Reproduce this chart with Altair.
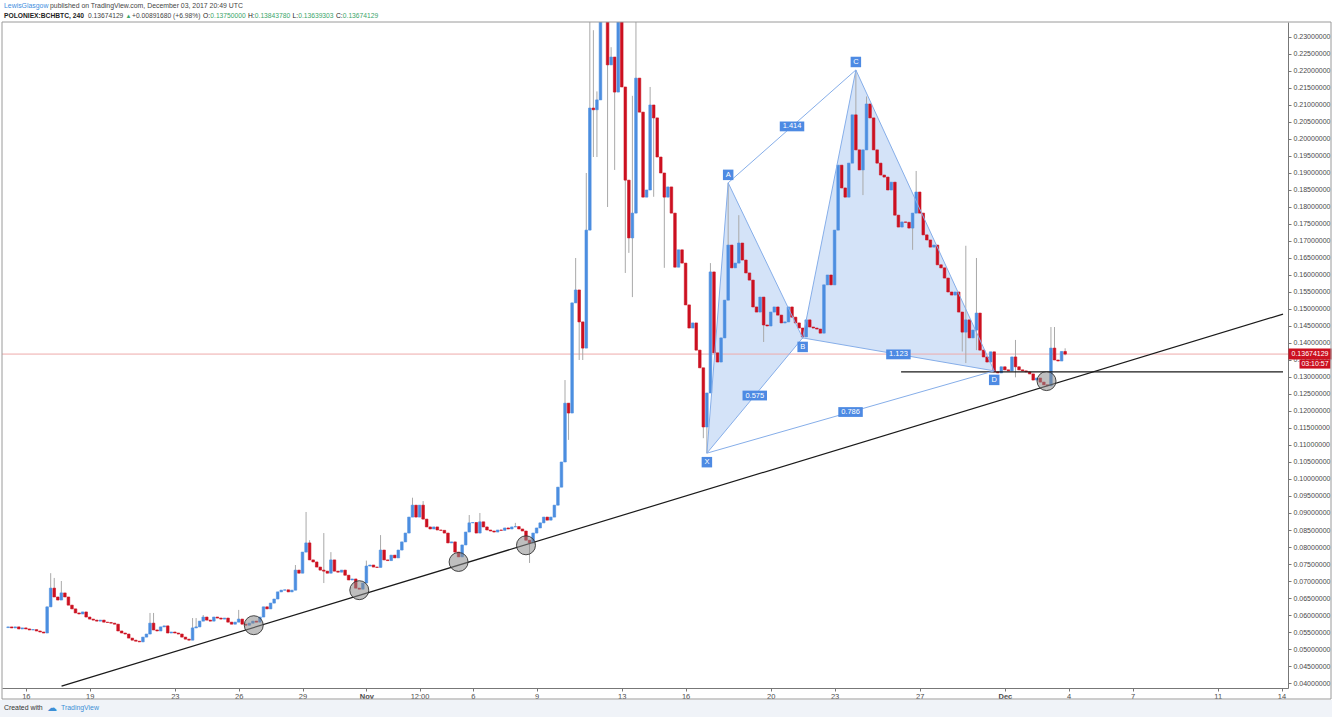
import altair as alt
import pandas as pd

# ---------------- data (prices in mBTC, 4h candles from 2017-10-15 04:00 UTC) ----------------
START = "2017-10-15T04:00:00Z"
FIRST_OPEN = 56.3
closes_mbtc = [
    56.5, 56.2, 56.5, 55.9, 56.2, 55.9, 55.6, 55.7, 55.3, 55.0,
    54.7, 62.4, 67.9, 65.3, 64.4, 66.5, 65.3, 62.9, 61.8, 60.6,
    60.3, 60.9, 59.4, 58.8, 58.5, 58.2, 58.5, 57.9, 57.8, 57.6,
    57.3, 55.3, 54.7, 54.4, 53.2, 52.6, 52.3, 52.1, 53.5, 54.4,
    57.6, 55.6, 55.3, 56.5, 56.8, 54.7, 55.0, 54.7, 54.4, 53.5,
    52.9, 52.6, 56.2, 56.5, 58.2, 59.4, 58.5, 58.2, 59.4, 59.1,
    58.8, 59.1, 57.9, 57.3, 57.9, 58.8, 57.3, 57.0, 57.6, 58.2,
    57.9, 59.4, 62.4, 61.8, 63.5, 64.7, 66.8, 67.3, 67.4, 66.8,
    67.3, 73.2, 72.3, 78.5, 81.2, 76.2, 75.6, 74.1, 73.2, 72.9,
    72.3, 76.2, 72.9, 72.6, 73.2, 71.7, 70.3, 70.6, 67.9, 67.6,
    69.4, 74.4, 74.7, 74.1, 74.0, 79.1, 76.2, 76.0, 77.6, 76.8,
    79.1, 81.5, 84.1, 88.8, 92.3, 88.8, 92.3, 88.2, 85.9, 85.3,
    85.9, 85.0, 84.9, 84.1, 81.2, 81.5, 78.5, 77.1, 80.6, 84.4,
    87.1, 87.2, 84.1, 87.4, 85.9, 85.0, 84.7, 84.4, 85.0, 84.9,
    85.6, 85.3, 85.9, 86.0, 85.3, 84.7, 82.0, 81.2, 84.1, 85.6,
    87.1, 88.8, 87.9, 88.8, 92.3, 97.6, 105.0, 122.3, 119.4, 151.8,
    155.6, 146.2, 138.5, 173.2, 209.1, 208.6, 211.5, 245.0, 240.0, 221.8,
    224.1, 213.8, 238.0, 215.3, 187.9, 170.9, 178.2, 217.9, 207.9, 182.9,
    185.0, 210.0, 206.2, 194.7, 190.0, 182.9, 185.9, 178.2, 162.3, 167.4,
    163.5, 151.2, 144.4, 145.9, 137.9, 132.7, 115.3, 125.3, 160.9, 137.1,
    134.4, 141.5, 152.6, 168.8, 162.1, 163.5, 169.4, 164.4, 160.6, 158.5,
    150.6, 149.1, 153.5, 145.3, 145.0, 149.1, 150.6, 148.2, 145.9, 146.2,
    150.6, 147.6, 145.9, 144.4, 141.8, 146.8, 144.7, 144.4, 144.1, 142.9,
    157.1, 160.0, 157.1, 173.2, 192.3, 185.6, 182.9, 192.9, 207.1, 196.8,
    190.9, 196.8, 210.3, 206.2, 196.8, 192.9, 189.4, 188.8, 185.0, 187.3,
    177.6, 174.1, 175.6, 175.5, 173.8, 178.2, 184.4, 178.2, 171.8, 170.3,
    168.2, 168.8, 163.0, 162.1, 159.1, 155.0, 154.1, 155.0, 149.1, 143.2,
    146.8, 141.5, 143.8, 148.8, 137.9, 135.9, 134.4, 137.4, 131.5, 131.2,
    133.0, 132.1, 131.8, 135.9, 133.0, 132.1, 131.8, 131.5, 130.9, 129.1,
    129.7, 128.5, 127.7, 127.4, 138.5, 135.0, 134.7, 137.5, 136.74,
]
wick_high = {12: 72.3, 13: 70.9, 15: 70.0, 40: 60.6, 41: 60.6, 52: 59.1, 53: 59.1, 55: 60.0,
             65: 61.5, 81: 74.7, 84: 90.3, 85: 82.0, 89: 84.1, 91: 78.5, 101: 76.0, 105: 83.5,
             114: 94.5, 117: 93.5, 130: 89.4, 133: 90.0, 143: 87.1, 157: 129.1, 160: 165.0,
             163: 190.0, 164: 240.0, 165: 232.0, 166: 214.0, 167: 262.0, 168: 268.0, 169: 250.0,
             170: 227.0, 172: 250.0, 173: 250.0, 176: 212.7, 177: 236.0, 181: 215.3, 198: 163.5,
             203: 187.1, 206: 177.6, 239: 220.3, 242: 212.5, 256: 190.6, 270: 168.6, 273: 165.0,
             284: 140.9, 294: 144.7, 295: 144.7, 298: 138.44}
wick_low = {89: 69.4, 147: 75.3, 158: 111.5, 161: 135.0, 162: 135.0, 165: 194.7, 166: 194.7,
            169: 180.0, 171: 190.9, 174: 160.6, 175: 166.5, 176: 153.5, 182: 183.0, 185: 162.1,
            196: 112.0, 197: 107.6, 213: 140.3, 224: 141.2, 241: 183.5, 255: 167.4, 269: 137.5,
            270: 134.1, 273: 137.9, 284: 129.9, 298: 136.39}

# harmonic pattern points
pat_names = ["X", "A", "B", "C", "D"]
pat_times = ["2017-11-17T00:00:00Z", "2017-11-18T00:00:00Z", "2017-11-21T12:00:00Z",
             "2017-11-24T00:00:00Z", "2017-11-30T12:00:00Z"]
pat_prices = [0.1076, 0.1871, 0.1415, 0.2203, 0.1318]
ratio_labels = ["0.575", "1.414", "0.786", "1.123"]
ratio_pairs = [("X", "B"), ("A", "C"), ("X", "D"), ("B", "D")]

# circles on the trend line
circle_times = ["2017-10-26T17:00:00Z", "2017-10-31T16:00:00Z", "2017-11-05T08:00:00Z",
                "2017-11-08T12:00:00Z", "2017-12-02T23:00:00Z"]
circle_prices = [0.0570, 0.0673, 0.0756, 0.0805, 0.1288]

# trend line & support line
trend_times = ["2017-10-17T16:16:00Z", "2017-12-14T01:41:00Z"]
trend_prices = [0.0391, 0.1485]
support_times = ["2017-11-26T03:00:00Z", "2017-12-14T01:41:00Z"]
support_price = 0.1315

last_price = 0.13674129
timer_text = "03:10:57"

x_tick_dates = ["2017-10-16", "2017-10-19", "2017-10-23", "2017-10-26", "2017-10-29",
                "2017-11-01", "2017-11-03T12:00", "2017-11-06", "2017-11-09", "2017-11-13",
                "2017-11-16", "2017-11-20", "2017-11-23", "2017-11-27", "2017-12-01",
                "2017-12-04", "2017-12-07", "2017-12-11", "2017-12-14"]
x_tick_labels = ["16", "19", "23", "26", "29", "Nov", "12:00", "6", "9", "13",
                 "16", "20", "23", "27", "Dec", "4", "7", "11", "14"]
y_ticks = [round(0.040 + 0.005 * k, 3) for k in range(39)]

x_domain = ["2017-10-15T02:44:00Z", "2017-12-14T01:41:00Z"]
y_domain = [0.03853, 0.23441]


def ms(ts):
    t = pd.Timestamp(ts)
    if t.tzinfo is None:
        t = t.tz_localize("UTC")
    return int(t.value // 1_000_000)


# ---------------- build tables ----------------
start_ms = ms(START)
rows = []
prev = FIRST_OPEN
for i, c in enumerate(closes_mbtc):
    o = prev
    hi = max(o, c, wick_high.get(i, max(o, c)))
    lo = min(o, c, wick_low.get(i, min(o, c)))
    rows.append(dict(t=start_ms + i * 4 * 3600 * 1000, open=o / 1000, close=c / 1000,
                     high=hi / 1000, low=lo / 1000, dir="up" if c >= o else "down"))
    prev = c
candles = pd.DataFrame(rows)

P = {n: (ms(t), p) for n, t, p in zip(pat_names, pat_times, pat_prices)}


def interp(t, a, b):
    (ta, pa), (tb, pb) = P[a], P[b]
    return pa + (pb - pa) * (t - ta) / (tb - ta)


area_rows = []
for tri, (a, apex, b) in enumerate([("X", "A", "B"), ("B", "C", "D")]):
    area_rows.append(dict(tri=tri, t=P[a][0], up=P[a][1], lo=P[a][1]))
    area_rows.append(dict(tri=tri, t=P[apex][0], up=P[apex][1], lo=interp(P[apex][0], a, b)))
    area_rows.append(dict(tri=tri, t=P[b][0], up=P[b][1], lo=P[b][1]))
areas = pd.DataFrame(area_rows)

seg_pairs = [("X", "A"), ("A", "B"), ("X", "B"), ("B", "C"), ("C", "D"), ("B", "D"),
             ("A", "C"), ("X", "D")]
segs = pd.DataFrame([dict(t1=P[a][0], p1=P[a][1], t2=P[b][0], p2=P[b][1]) for a, b in seg_pairs])

pts = pd.DataFrame(dict(name=pat_names, t=[P[n][0] for n in pat_names],
                        p=[P[n][1] for n in pat_names]))
pts_above = pts[pts["name"].isin(["A", "C"])]
pts_below = pts[~pts["name"].isin(["A", "C"])]
ratios = pd.DataFrame([dict(label=l, t=(P[a][0] + P[b][0]) / 2, p=(P[a][1] + P[b][1]) / 2)
                       for l, (a, b) in zip(ratio_labels, ratio_pairs)])
circles = pd.DataFrame(dict(t=[ms(t) for t in circle_times], p=circle_prices))
lines = pd.DataFrame([
    dict(t1=ms(trend_times[0]), p1=trend_prices[0], t2=ms(trend_times[1]), p2=trend_prices[1]),
    dict(t1=ms(support_times[0]), p1=support_price, t2=ms(support_times[1]), p2=support_price),
])
lastdf = pd.DataFrame(dict(p=[last_price], label=[f"{last_price:.8f}"], timer=[timer_text]))
one = pd.DataFrame({"k": [0]})

# ---------------- scales / axes ----------------
FONT = "Liberation Sans"
BLUE = "#4c8ee0"
RED = "#cc1020"
xs = alt.Scale(type="utc", domain=[ms(d) for d in x_domain])
ys = alt.Scale(domain=y_domain, zero=False, nice=False)

expr = "''"
for d, lab in reversed(list(zip(x_tick_dates, x_tick_labels))):
    expr = f"time(datum.value) == {ms(d)} ? '{lab}' : ({expr})"
bold_test = " || ".join(f"time(datum.value) == {ms(d)}"
                        for d, l in zip(x_tick_dates, x_tick_labels) if l in ("Nov", "Dec"))

x_axis = alt.Axis(values=[ms(d) for d in x_tick_dates], labelExpr=expr, title=None, grid=False,
                  labelFontSize=7.5, labelFont=FONT, labelColor="#4a4a4a", tickColor="#777",
                  tickSize=3, domainColor="#777", labelPadding=1, labelOverlap=False,
                  labelFlush=False,
                  labelFontWeight={"condition": {"test": bold_test, "value": "bold"},
                                   "value": "normal"})
y_axis = alt.Axis(orient="right", values=y_ticks, format=".8f", title=None, grid=False,
                  labelFontSize=7, labelFont=FONT, labelColor="#4a4a4a", tickColor="#777",
                  tickSize=3, domainColor="#777", labelPadding=2, labelOverlap=False,
                  labelFlush=False)


def X(field):
    return alt.X(field, scale=xs, axis=x_axis, title=None)


def Y(field):
    return alt.Y(field, scale=ys, axis=y_axis, title=None)


# ---------------- layers ----------------
area_layer = alt.Chart(areas).mark_area(color="#3d7ee0", opacity=0.22, clip=True).encode(
    x=X("t:T"), y=Y("up:Q"), y2="lo:Q", detail="tri:N")

price_line = alt.Chart(lastdf).mark_rule(color="#eeaaaa", strokeWidth=1).encode(
    y=Y("p:Q"), x=alt.value(0), x2=alt.value(1286))

wicks = alt.Chart(candles).mark_rule(color="#a9a9a9", strokeWidth=1, clip=True).encode(
    x=X("t:T"), y=Y("low:Q"), y2="high:Q")

cscale = alt.Scale(domain=["up", "down"], range=[BLUE, RED])
bodies = alt.Chart(candles).mark_bar(size=2.6, clip=True, strokeWidth=0.6).encode(
    x=X("t:T"), y=Y("open:Q"), y2="close:Q",
    color=alt.Color("dir:N", scale=cscale, legend=None),
    stroke=alt.Stroke("dir:N", scale=cscale, legend=None))

black_lines = alt.Chart(lines).mark_rule(color="#1a1a1a", strokeWidth=1.2, clip=True).encode(
    x=X("t1:T"), x2="t2:T", y=Y("p1:Q"), y2="p2:Q")

pat_lines = alt.Chart(segs).mark_rule(color="#86aee9", strokeWidth=1, clip=True).encode(
    x=X("t1:T"), x2="t2:T", y=Y("p1:Q"), y2="p2:Q")

circ = alt.Chart(circles).mark_point(shape="circle", filled=True, size=360, fill="#8a8a8a",
                                     fillOpacity=0.55, stroke="#333", strokeWidth=1,
                                     strokeOpacity=0.9).encode(x=X("t:T"), y=Y("p:Q"))

LBL = "#4d8ae3"


def letter_layers(df, dy):
    box = alt.Chart(df).mark_point(shape="square", filled=True, size=110, color=LBL, opacity=1,
                                   yOffset=dy).encode(x=X("t:T"), y=Y("p:Q"))
    txt_ = alt.Chart(df).mark_text(color="white", fontSize=7.5, font=FONT, yOffset=dy,
                                   baseline="middle").encode(x=X("t:T"), y=Y("p:Q"),
                                                             text="name:N")
    return [box, txt_]


ratio_box = alt.Chart(ratios).mark_point(shape="M-1,-0.4L1,-0.4L1,0.4L-1,0.4Z", filled=True,
                                         size=600, color=LBL, opacity=1).encode(
    x=X("t:T"), y=Y("p:Q"))
ratio_txt = alt.Chart(ratios).mark_text(color="white", fontSize=7.5, font=FONT,
                                        baseline="middle").encode(
    x=X("t:T"), y=Y("p:Q"), text="label:N")

# right-axis price tag and timer
price_box = alt.Chart(lastdf).mark_point(shape="M-1,-0.256L1,-0.256L1,0.256L-1,0.256Z",
                                         filled=True, size=1849, color=RED, opacity=1).encode(
    x=alt.value(1308), y=Y("p:Q"))
price_txt = alt.Chart(lastdf).mark_text(color="white", fontSize=7, font=FONT,
                                        baseline="middle").encode(
    x=alt.value(1308), y=Y("p:Q"), text="label:N")
timer_box = alt.Chart(lastdf).mark_point(shape="M-1,-0.29L1,-0.29L1,0.29L-1,0.29Z", filled=True,
                                         size=961, color=RED, opacity=1, yOffset=10).encode(
    x=alt.value(1313), y=Y("p:Q"))
timer_txt = alt.Chart(lastdf).mark_text(color="white", fontSize=7, font=FONT, baseline="middle",
                                        yOffset=10).encode(
    x=alt.value(1313), y=Y("p:Q"), text="timer:N")

# frame, footer, header (pixel layout relative to plot origin at (2, 22))
frame = [
    alt.Chart(one).mark_rule(color="#9a9a9a", strokeWidth=1).encode(
        x=alt.value(0), x2=alt.value(1329), y=alt.value(0)),
    alt.Chart(one).mark_rule(color="#9a9a9a", strokeWidth=1).encode(
        x=alt.value(1329), y=alt.value(0), y2=alt.value(677)),
    alt.Chart(one).mark_rule(color="#9a9a9a", strokeWidth=1).encode(
        x=alt.value(0), x2=alt.value(1329), y=alt.value(677)),
    alt.Chart(one).mark_rule(color="#9a9a9a", strokeWidth=1).encode(
        x=alt.value(0), y=alt.value(0), y2=alt.value(677)),
]
footer_bg = alt.Chart(one).mark_rect(color="#f0f3f8").encode(
    x=alt.value(-2), x2=alt.value(1330), y=alt.value(678), y2=alt.value(695))


def txt(x, y, s, color="#444", weight="normal", size=6.9, font=FONT):
    return alt.Chart(one).mark_text(text=s, align="left", baseline="middle", fontSize=size,
                                    font=font, color=color, fontWeight=weight).encode(
        x=alt.value(x), y=alt.value(y))


GREEN = "#3aa56a"
H2 = 6.7
header = [
    txt(2, -16, "LewisGlasgow", color="#3e8ede"),
    txt(48, -16, "published on TradingView.com, December 03, 2017 20:49 UTC"),
    txt(2, -6, "POLONIEX:BCHBTC, 240", color="#222", weight="bold", size=H2),
    txt(86, -6, "0.13674129", size=H2),
    txt(123.5, -6, "\u25b2", color=GREEN, size=6),
    txt(130, -6, "+0.00891680 (+6.98%)", size=H2),
    txt(201, -6, "O:", color="#222", size=H2),
    txt(208.3, -6, "0.13750000", color=GREEN, size=H2),
    txt(246, -6, "H:", color="#222", size=H2),
    txt(252.8, -6, "0.13843780", color=GREEN, size=H2),
    txt(290.5, -6, "L:", color="#222", size=H2),
    txt(296.2, -6, "0.13639303", color=GREEN, size=H2),
    txt(334, -6, "C:", color="#222", size=H2),
    txt(340.8, -6, "0.13674129", color=GREEN, size=H2),
]
footer = [
    txt(2, 686, "Created with", color="#333"),
    txt(45, 686, "\u2601", color="#3c8fd6", size=10, font="DejaVu Sans"),
    txt(59, 686, "TradingView", color="#3c8fd6"),
]

layers = ([footer_bg, area_layer, price_line, wicks, bodies, black_lines, pat_lines, circ]
          + letter_layers(pts_above, -8) + letter_layers(pts_below, 9)
          + [ratio_box, ratio_txt, price_box, price_txt, timer_box, timer_txt]
          + frame + header + footer)

chart = alt.layer(*layers).properties(
    width=1286, height=666,
    autosize=alt.AutoSizeParams(type="none"),
    padding={"left": 2, "top": 22, "right": 44, "bottom": 29},
    background="white",
).configure_view(stroke=None)

chart.save("out.html", embed_options={"renderer": "svg", "actions": False})
